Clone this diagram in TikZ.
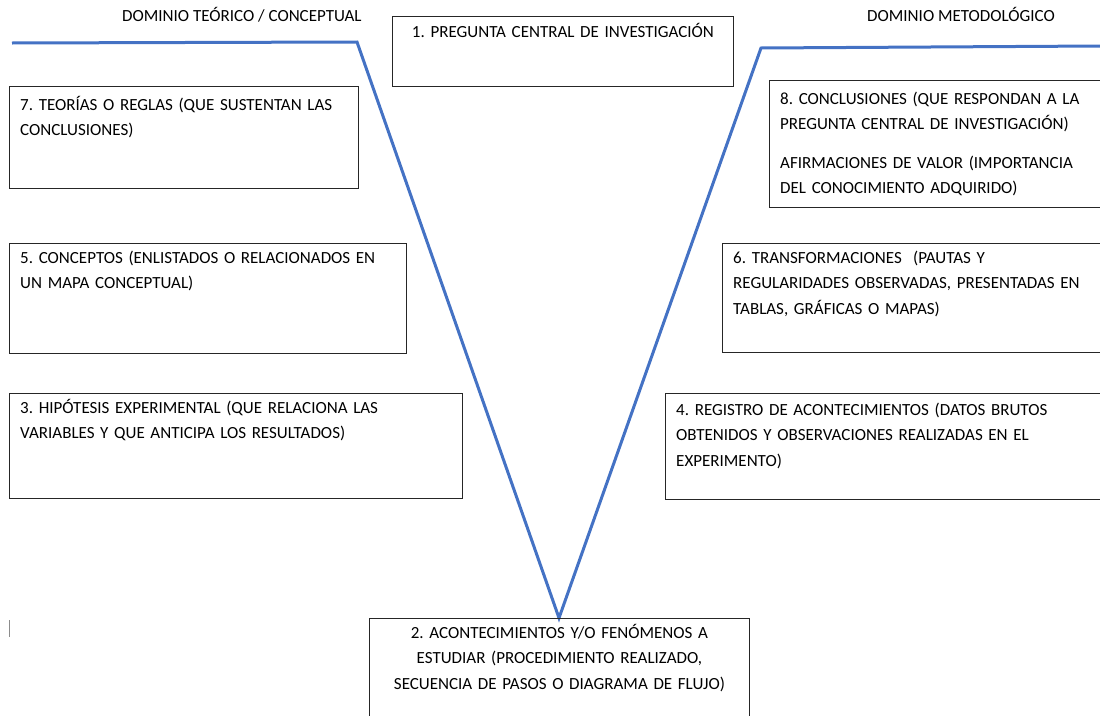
\documentclass[tikz,border=0pt]{standalone}
\usepackage{fontspec}
\setmainfont{Carlito}
\frenchspacing
\definecolor{azulv}{RGB}{68,114,196}

\begin{document}
\begin{tikzpicture}[x=1pt, y=-1pt,
    caja/.style={draw=black!85, line width=0.9pt, anchor=north west, inner sep=0pt},
    texto/.style={anchor=base west, inner sep=0pt, align=left, text width=440pt,
                  font=\fontsize{17}{25.5}\selectfont},
    centrado/.style={anchor=base, inner sep=0pt, align=center, text width=380pt,
                  font=\fontsize{17}{25.5}\selectfont},
    dominio/.style={anchor=base west, inner sep=0pt, font=\fontsize{17}{20}\selectfont},
    uve/.style={azulv, line width=3pt}]
    \useasboundingbox (0,0) rectangle (1100,715);
    \clip (0,0) rectangle (1100,715);

    \node[dominio] (dteo) at (122,21) {DOMINIO TEÓRICO / CONCEPTUAL};
    \node[dominio] (dmet) at (867,21) {DOMINIO METODOLÓGICO};

    % the V
    \coordinate (izq) at (12,43);
    \coordinate (qi) at (357,42);
    \coordinate (vert) at (559,618);
    \coordinate (qd) at (761,48);
    \coordinate (der) at (1100,46);
    \draw[uve] (izq) -- (qi) -- (vert) -- (qd) -- (der);

    \node[caja, minimum width=341, minimum height=70] (c1) at (392,16) {};
    \node[caja, minimum width=349, minimum height=102] (c7) at (9,86) {};
    \node[caja, minimum width=360, minimum height=127] (c8) at (769,80) {};
    \node[caja, minimum width=397, minimum height=110] (c5) at (9,243) {};
    \node[caja, minimum width=400, minimum height=109] (c6) at (722,243) {};
    \node[caja, minimum width=453, minimum height=105] (c3) at (9,393) {};
    \node[caja, minimum width=460, minimum height=106] (c4) at (665,393) {};
    \node[caja, minimum width=380, minimum height=120] (c2) at (369,618) {};

    \node[centrado] (t1) at ([yshift=-21pt]c1.north) {1. PREGUNTA CENTRAL DE INVESTIGACIÓN};
    \node[texto] (t7) at ([xshift=11pt, yshift=-24pt]c7.north west)
        {7. TEORÍAS O REGLAS (QUE SUSTENTAN LAS\\CONCLUSIONES)};
    \node[texto] (t8) at ([xshift=11pt, yshift=-24pt]c8.north west)
        {8. CONCLUSIONES (QUE RESPONDAN A LA\\PREGUNTA CENTRAL DE INVESTIGACIÓN)\\[13pt]
         AFIRMACIONES DE VALOR (IMPORTANCIA\\DEL CONOCIMIENTO ADQUIRIDO)};
    \node[texto] (t5) at ([xshift=11pt, yshift=-20pt]c5.north west)
        {5. CONCEPTOS (ENLISTADOS O RELACIONADOS EN\\UN MAPA CONCEPTUAL)};
    \node[texto] (t6) at ([xshift=11pt, yshift=-20pt]c6.north west)
        {6. TRANSFORMACIONES\ \ (PAUTAS Y\\REGULARIDADES OBSERVADAS, PRESENTADAS EN\\TABLAS, GRÁFICAS O MAPAS)};
    \node[texto] (t3) at ([xshift=11pt, yshift=-20pt]c3.north west)
        {3. HIPÓTESIS EXPERIMENTAL (QUE RELACIONA LAS\\VARIABLES Y QUE ANTICIPA LOS RESULTADOS)};
    \node[texto] (t4) at ([xshift=11pt, yshift=-22pt]c4.north west)
        {4. REGISTRO DE ACONTECIMIENTOS (DATOS BRUTOS\\OBTENIDOS Y OBSERVACIONES REALIZADAS EN EL\\EXPERIMENTO)};
    \node[centrado] (t2) at ([yshift=-20pt]c2.north)
        {2. ACONTECIMIENTOS Y/O FENÓMENOS A\\ESTUDIAR (PROCEDIMIENTO REALIZADO,\\SECUENCIA DE PASOS O DIAGRAMA DE FLUJO)};

    \coordinate (cur1) at (9,620);
    \coordinate (cur2) at (9,637);
    \draw[black!45, line width=0.7pt] (cur1) -- (cur2);
\end{tikzpicture}
\end{document}
